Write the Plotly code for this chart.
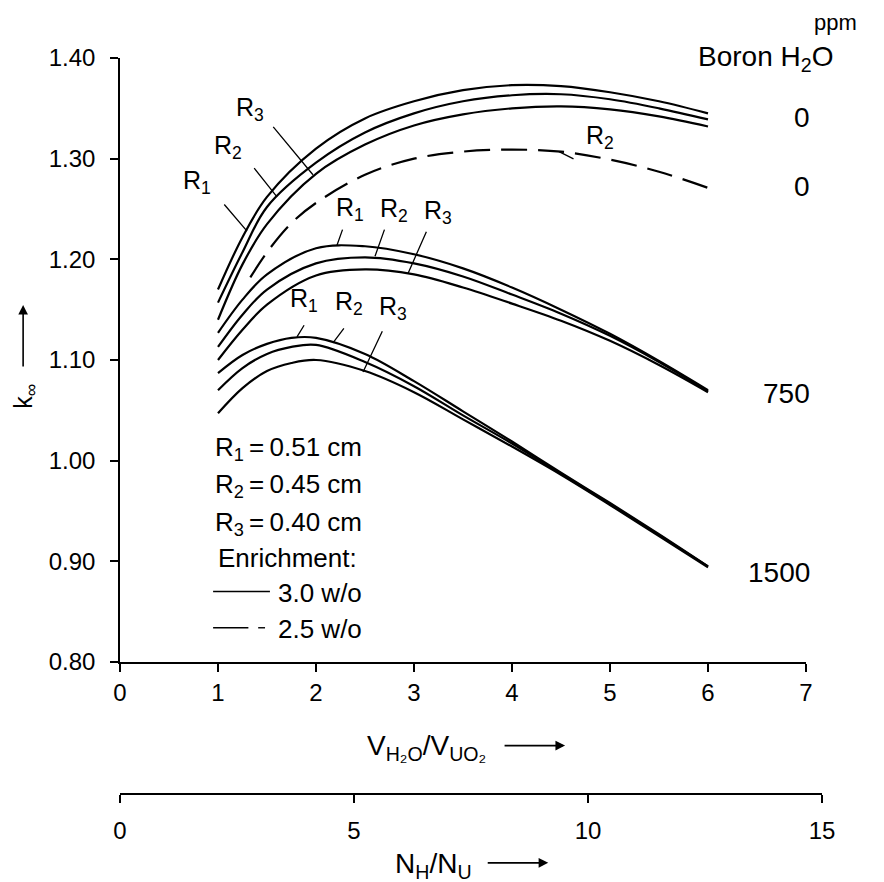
import plotly.graph_objects as go

# ---------------- data ----------------
X_SOLID = [1.0, 1.25, 1.5, 2.0, 2.5, 3.0, 3.5, 4.0, 4.5, 5.0, 5.5, 6.0]
X_LOW = [1.0, 1.25, 1.5, 1.75, 2.0, 2.5, 3.0, 3.5, 4.0, 4.5, 5.0, 5.5, 6.0]
X_DASH = [1.33, 1.5, 1.75, 2.0, 2.5, 3.0, 3.5, 4.0, 4.5, 5.0, 5.5, 6.0]

# Boron 0 ppm, 3.0 w/o
b0_r1 = [1.170, 1.222, 1.262, 1.310, 1.340, 1.357, 1.368, 1.373, 1.372, 1.366, 1.357, 1.345]
b0_r2 = [1.157, 1.207, 1.252, 1.296, 1.326, 1.345, 1.357, 1.363, 1.364, 1.359, 1.350, 1.339]
b0_r3 = [1.140, 1.195, 1.235, 1.285, 1.314, 1.333, 1.344, 1.350, 1.352, 1.349, 1.342, 1.332]
# Boron 0 ppm, 2.5 w/o (R2)
b0_r2_25 = [1.182, 1.207, 1.236, 1.256, 1.284, 1.300, 1.307, 1.309, 1.307, 1.299, 1.287, 1.271]
# Boron 750 ppm, 3.0 w/o
b750_r1 = [1.127, 1.160, 1.185, 1.211, 1.213, 1.205, 1.191, 1.172, 1.150, 1.126, 1.099, 1.070]
b750_r2 = [1.113, 1.145, 1.170, 1.196, 1.202, 1.196, 1.183, 1.165, 1.146, 1.124, 1.098, 1.069]
b750_r3 = [1.100, 1.130, 1.155, 1.184, 1.190, 1.185, 1.172, 1.156, 1.139, 1.119, 1.095, 1.068]
# Boron 1500 ppm, 3.0 w/o
b1500_r1 = [1.087, 1.105, 1.116, 1.122, 1.122, 1.106, 1.079, 1.049, 1.019, 0.988, 0.958, 0.927, 0.895]
b1500_r2 = [1.070, 1.092, 1.106, 1.113, 1.115, 1.098, 1.074, 1.045, 1.017, 0.987, 0.957, 0.926, 0.895]
b1500_r3 = [1.047, 1.072, 1.089, 1.097, 1.100, 1.089, 1.068, 1.041, 1.014, 0.986, 0.956, 0.925, 0.894]

X_TICKS = [0, 1, 2, 3, 4, 5, 6, 7]
Y_TICKS = [0.80, 0.90, 1.00, 1.10, 1.20, 1.30, 1.40]
NH_TICKS = [0, 5, 10, 15]

# curve labels: text, text position (x, y), leader tail (x, y), leader head on curve (x, y)
curve_labels = [
    ("R<sub>3</sub>", 1.33, 1.349, 1.551, 1.333, 1.969, 1.284),
    ("R<sub>2</sub>", 1.10, 1.312, 1.357, 1.292, 1.602, 1.262),
    ("R<sub>1</sub>", 0.79, 1.277, 1.051, 1.256, 1.296, 1.228),
    ("R<sub>1</sub>", 2.35, 1.250, 2.276, 1.231, 2.214, 1.214),
    ("R<sub>2</sub>", 2.80, 1.249, 2.704, 1.231, 2.602, 1.203),
    ("R<sub>3</sub>", 3.24, 1.247, 3.133, 1.229, 2.939, 1.186),
    ("R<sub>1</sub>", 1.88, 1.160, 1.888, 1.136, 1.806, 1.123),
    ("R<sub>2</sub>", 2.34, 1.157, 2.296, 1.133, 2.173, 1.117),
    ("R<sub>3</sub>", 2.79, 1.152, 2.684, 1.130, 2.480, 1.088),
    ("R<sub>2</sub>", 4.90, 1.322, 4.643, 1.299, 4.480, 1.307),
]

# right-side boron labels: text, y value
boron_labels = [("0", 1.341), ("0", 1.272), ("750", 1.067), ("1500", 0.889)]

THIN = "\u2009"
legend_lines = [
    (f"R<sub>1</sub>{THIN}={THIN}0.51 cm", 0.945, 1.012),
    (f"R<sub>2</sub>{THIN}={THIN}0.45 cm", 0.945, 0.975),
    (f"R<sub>3</sub>{THIN}={THIN}0.40 cm", 0.945, 0.938),
    ("Enrichment:", 0.975, 0.903),
    ("3.0 w/o", 1.595, 0.869),
    ("2.5 w/o", 1.595, 0.833),
]

FONT = "Liberation Sans, Arial, Helvetica, sans-serif"
LW = 2.2

fig = go.Figure()

for ys in [b0_r1, b0_r2, b0_r3, b750_r1, b750_r2, b750_r3]:
    fig.add_trace(go.Scatter(x=X_SOLID, y=ys, mode="lines",
                             line=dict(color="black", width=LW, shape="spline"),
                             hoverinfo="skip", showlegend=False))
for ys in [b1500_r1, b1500_r2, b1500_r3]:
    fig.add_trace(go.Scatter(x=X_LOW, y=ys, mode="lines",
                             line=dict(color="black", width=LW, shape="spline"),
                             hoverinfo="skip", showlegend=False))
fig.add_trace(go.Scatter(x=X_DASH, y=b0_r2_25, mode="lines",
                         line=dict(color="black", width=LW, shape="spline", dash="26px,11px"),
                         hoverinfo="skip", showlegend=False))

# legend sample lines
fig.add_trace(go.Scatter(x=[0.95, 1.53], y=[0.870, 0.870], mode="lines",
                         line=dict(color="black", width=1.4), hoverinfo="skip", showlegend=False))
fig.add_trace(go.Scatter(x=[0.95, 1.31, None, 1.41, 1.48], y=[0.834, 0.834, None, 0.834, 0.834],
                         mode="lines", line=dict(color="black", width=1.4),
                         hoverinfo="skip", showlegend=False))

# dummy trace for the N_H/N_U axis
fig.add_trace(go.Scatter(x=[0, 15], y=[0, 0], xaxis="x2", yaxis="y2", mode="markers",
                         marker=dict(opacity=0), hoverinfo="skip", showlegend=False))

annotations = []
for txt, tx, ty, ax_, ay_, hx, hy in curve_labels:
    annotations.append(dict(x=hx, y=hy, ax=ax_, ay=ay_, axref="x", ayref="y", xref="x", yref="y",
                            showarrow=True, arrowhead=0, arrowwidth=1.3, arrowcolor="black", text=""))
    annotations.append(dict(x=tx, y=ty, xref="x", yref="y", text=txt, showarrow=False,
                            font=dict(size=25, color="black", family=FONT)))

for txt, ty in boron_labels:
    annotations.append(dict(x=0.986, y=ty, xref="paper", yref="y", text=txt, showarrow=False,
                            xanchor="right", yanchor="middle",
                            font=dict(size=28, color="black", family=FONT)))

for txt, tx, ty in legend_lines:
    annotations.append(dict(x=tx, y=ty, xref="x", yref="y", text=txt, showarrow=False,
                            xanchor="left", yanchor="middle",
                            font=dict(size=26, color="black", family=FONT)))

annotations += [
    dict(x=1.052, y=1.048, xref="paper", yref="paper", text="ppm", showarrow=False,
         xanchor="right", yanchor="middle", font=dict(size=22, color="black", family=FONT)),
    dict(x=6.59, y=1.40, xref="x", yref="y", text="Boron H<sub>2</sub>O", showarrow=False,
         xanchor="center", yanchor="middle", font=dict(size=28, color="black", family=FONT)),
    # x titles
    dict(x=0.436, y=0.062, xref="paper", yref="paper", text="V<sub>H₂O</sub>/V<sub>UO₂</sub>",
         showarrow=False, xanchor="center", yanchor="middle",
         font=dict(size=28, color="black", family=FONT)),
    dict(x=0.634, y=0.0645, ax=-62, ay=0, xref="paper", yref="paper", text="",
         showarrow=True, arrowhead=2, arrowsize=1.2, arrowwidth=1.6, arrowcolor="black"),
    dict(x=0.447, y=-0.098, xref="paper", yref="paper", text="N<sub>H</sub>/N<sub>U</sub>",
         showarrow=False, xanchor="center", yanchor="middle",
         font=dict(size=28, color="black", family=FONT)),
    dict(x=0.610, y=-0.095, ax=-62, ay=0, xref="paper", yref="paper", text="",
         showarrow=True, arrowhead=2, arrowsize=1.2, arrowwidth=1.6, arrowcolor="black"),
    # y title
    dict(x=-0.1353, y=0.539, xref="paper", yref="paper", text="k<sub>∞</sub>", textangle=-90,
         showarrow=False, xanchor="center", yanchor="middle",
         font=dict(size=25, color="black", family=FONT)),
    dict(x=-0.138, y=0.664, ax=0, ay=63, xref="paper", yref="paper", text="",
         showarrow=True, arrowhead=2, arrowsize=1.2, arrowwidth=1.6, arrowcolor="black"),
]

W, H = 876, 874
ML, MR, MT, MB = 112, 62, 50, 89
plot_w = W - ML - MR
plot_h = H - MT - MB
main_right = (806 - 8 - ML) / plot_w
main_bottom = (793 - 662) / plot_h

axis_common = dict(showline=True, linecolor="black", linewidth=1.5, ticks="outside", ticklen=8,
                   tickwidth=1.5, tickcolor="black", showgrid=False, zeroline=False,
                   tickfont=dict(size=24, color="black", family=FONT))

fig.update_layout(
    width=W, height=H,
    margin=dict(l=ML, r=MR, t=MT, b=MB, pad=0),
    paper_bgcolor="white", plot_bgcolor="white",
    font=dict(family=FONT, size=22, color="black"),
    showlegend=False,
    xaxis=dict(domain=[0, main_right], range=[0, 7], tickvals=X_TICKS,
               ticktext=[str(v) for v in X_TICKS], anchor="y", **axis_common),
    yaxis=dict(domain=[main_bottom, 1], range=[0.80, 1.40], tickvals=Y_TICKS,
               ticktext=[f"{v:.2f}" for v in Y_TICKS], anchor="x", ticklabelstandoff=10,
               **axis_common),
    xaxis2=dict(domain=[0, 1], range=[0, 15], tickvals=NH_TICKS, ticktext=[str(v) for v in NH_TICKS],
                anchor="y2", ticklabelstandoff=7, **axis_common),
    yaxis2=dict(domain=[0, 0.001], range=[0, 1], visible=False, anchor="x2"),
    annotations=annotations,
)

fig.write_html("out.html")
